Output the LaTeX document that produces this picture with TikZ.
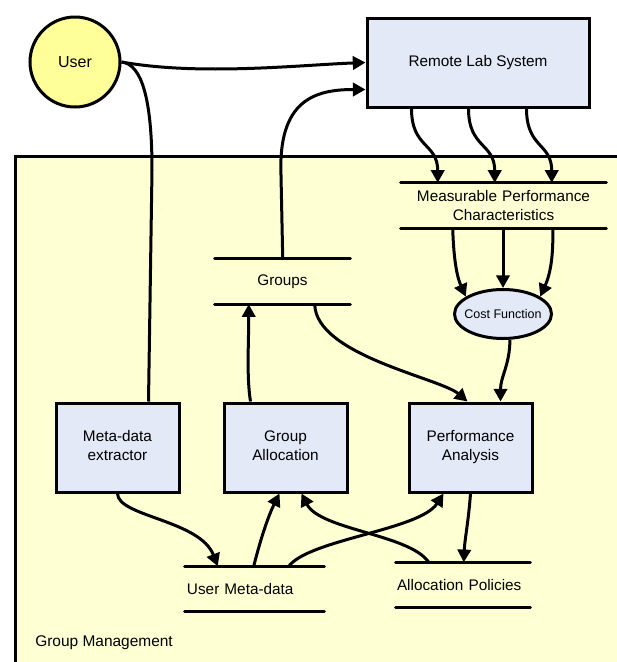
\documentclass[tikz,border=0pt]{standalone}
\usepackage{fontspec}
\setmainfont{Liberation Sans}
\usetikzlibrary{arrows.meta,calc,shapes.geometric}
\definecolor{userfill}{HTML}{FFFF99}
\definecolor{boxfill}{HTML}{E3E9F6}
\definecolor{bgfill}{HTML}{FFFFD4}
\begin{document}
\begin{tikzpicture}[x=0.75pt,y=-0.75pt,
  lw/.style={line width=2.25pt},
  txt/.style={font=\fontsize{11.5}{14.25}\selectfont},
  proc/.style={draw, lw, fill=boxfill, rectangle, minimum width=92.25pt, minimum height=66.75pt, align=center, txt, inner sep=0pt},
  store/.style={inner sep=0pt, minimum height=33.75pt, txt},
  storeline/.style={lw, line cap=round},
  arr/.style={lw, -{Triangle[length=9.5pt,width=10pt]}},
  link/.style={lw}
]
\useasboundingbox (0,0) rectangle (617,662);
\begin{scope}
\clip (0,0) rectangle (617,662);
\draw[lw, fill=bgfill] (15,156) rectangle (700,720);
\end{scope}

% nodes
\node[circle, draw, lw, fill=userfill, minimum size=67.5pt, inner sep=0pt, font=\fontsize{12}{14}\selectfont] (user) at (75,62) {User};
\node[proc, minimum width=166.5pt] (rls) at (478,62.5) {Remote Lab System};
\node[proc] (mext) at (117.5,447.5) {Meta-data\\extractor\vphantom{p}};
\node[proc] (galloc) at (285.5,447.5) {Group\\Allocation\vphantom{p}};
\node[proc] (perf) at (470.5,447.5) {Performance\\Analysis};
\node[ellipse, draw, lw, fill=boxfill, minimum width=72.75pt, minimum height=36.75pt, inner sep=0pt, font=\fontsize{9.4}{11}\selectfont] (cost) at (503,314) {\makebox[0pt]{Cost Function}};
\node[store, text width=153.75pt, align=center] (mpc) at (503.5,205.5) {Measurable Performance\\Characteristics};
\node[store, text width=101.25pt, align=center] (groups) at (282.5,281.5) {Groups};
\node[store, text width=104.25pt, align=left] (umd) at (254.5,589) {\hspace*{1.5pt}User Meta-data};
\node[store, text width=100.5pt, align=left] (ap) at (463,585) {\hspace*{0.75pt}Allocation Policies};
\node[anchor=base west, font=\fontsize{11.6}{13}\selectfont, inner sep=0pt] (gm) at (35,646) {Group Management};

\foreach \n in {mpc,groups,umd,ap} {
  \draw[storeline] (\n.north west) -- (\n.north east);
  \draw[storeline] (\n.south west) -- (\n.south east);
}

% connectors
\draw[arr] (user.east) .. controls (200,76) and (300,65) .. (rls.west);
\draw[link] (user.east) .. controls (142,64) and (152,100) .. (152,170) -- ($(mext.north west)+(94,0)$);
\draw[arr] ($(groups.north west)+(68,0)$) -- (281,175) .. controls (278,100) and (315,89.5) .. ($(rls.west)+(0,27)$);

\foreach \a/\b in {46/37, 103/94, 161/151}
  \draw[arr] ($(rls.south west)+(\a,0)$) .. controls +(0,40) and +(0,-40) .. ($(mpc.north west)+(\b,0)$);

\draw[arr] ($(mpc.south west)+(52,0)$) .. controls +(1,35) and +(-8,-18) .. (cost.155);
\draw[arr] (mpc.south -| cost.north) -- (cost.north);
\draw[arr] ($(mpc.south west)+(152,0)$) .. controls +(1,35) and +(8,-18) .. (cost.25);

\draw[arr] (cost.-75) .. controls +(0,25) and +(0,-25) .. ($(perf.north west)+(93,0)$);
\draw[arr] ($(groups.south west)+(100,0)$) .. controls +(1,51) and (440,378) .. ($(perf.north west)+(60,0)$);
\draw[arr] ($(galloc.north west)+(28,0)$) .. controls +(-4,-25) and +(0,40) .. ($(groups.south west)+(34,0)$);

\draw[arr] (mext.south) .. controls +(0,23) and (200,520) .. ($(umd.north west)+(33,0)$);
\draw[arr] ($(umd.north west)+(69,0)$) .. controls +(8,-32) and +(-10,20) .. ($(galloc.south west)+(57,0)$);
\draw[arr] ($(umd.north west)+(104,0)$) .. controls +(21,-27) and (420,530) .. ($(perf.south west)+(36,0)$);
\draw[arr] ($(ap.north west)+(33,0)$) .. controls +(-19,-28) and (320,530) .. ($(galloc.south west)+(79,0)$);
\draw[arr] (perf.south) .. controls +(-2,28) and +(1,-23) .. ($(ap.north west)+(68,0)$);
\end{tikzpicture}
\end{document}
